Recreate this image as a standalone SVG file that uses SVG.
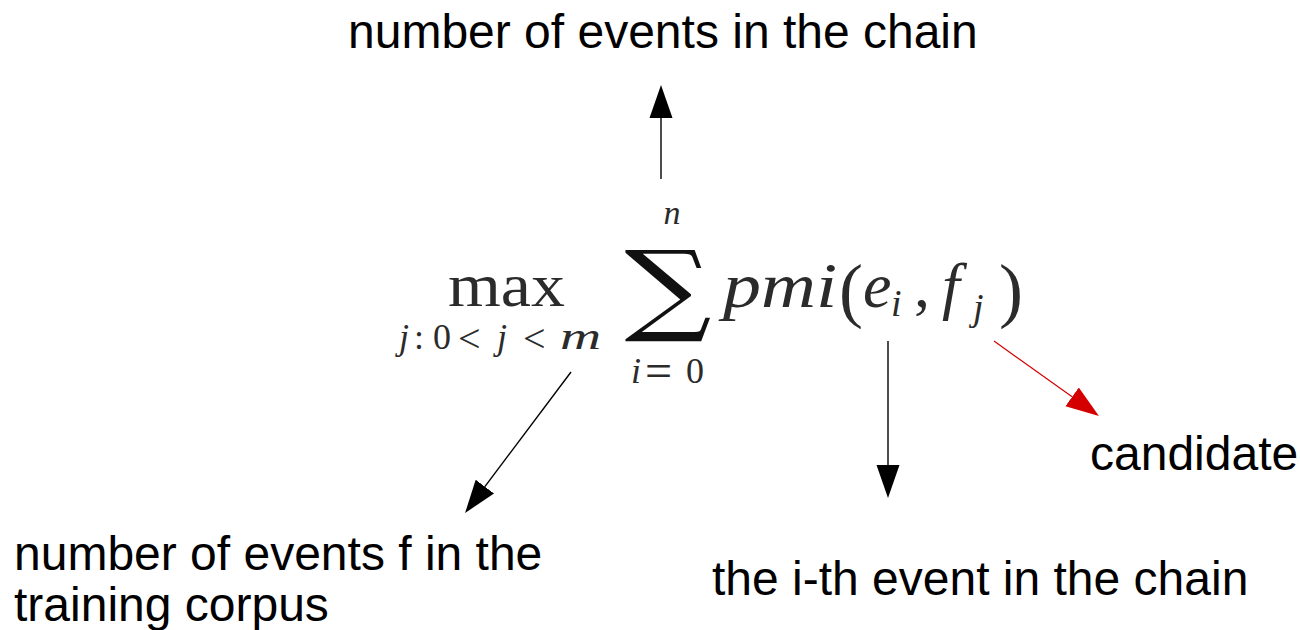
<svg xmlns="http://www.w3.org/2000/svg" width="1300" height="630" viewBox="0 0 1300 630">
<style>
.lbl{font-family:"Liberation Sans",Arial,sans-serif;font-size:48px;fill:#000}
.fm{font-family:"Liberation Serif","Times New Roman",serif;fill:#2b2b2b}
.it{font-style:italic}
.ln{stroke:#000;stroke-width:1.4;fill:none}
.lnr{stroke:#d40000;stroke-width:1.2;fill:none}
</style>
<defs>
<marker id="ah" markerUnits="userSpaceOnUse" markerWidth="34" markerHeight="24" refX="0" refY="11.5" orient="auto" viewBox="0 0 34 23">
<path d="M0,0 L33,11.5 L0,23 z" fill="#000"/>
</marker>
<marker id="ahr" markerUnits="userSpaceOnUse" markerWidth="34" markerHeight="24" refX="0" refY="11.5" orient="auto" viewBox="0 0 34 23">
<path d="M0,0 L33,11.5 L0,23 z" fill="#d40000"/>
</marker>
</defs>
<rect width="1300" height="630" fill="#fff"/>

<g id="formula">
<text class="fm" x="448" y="306" font-size="62" textLength="117" lengthAdjust="spacingAndGlyphs">max</text>
<text class="fm" y="349" font-size="36"><tspan class="it" x="399">j</tspan><tspan x="414">:</tspan><tspan x="433">0</tspan><tspan class="it" x="497">j</tspan></text>
<text class="fm" font-size="40" transform="translate(0,352)"><tspan x="458" y="0">&lt;</tspan><tspan x="523" y="0">&lt;</tspan></text>
<text class="fm it" font-size="38" transform="translate(560,349) scale(1.5,1)">m</text>
<text class="fm it" x="672" y="224" font-size="34" text-anchor="middle">n</text>
<text font-family="'DejaVu Serif',serif" font-size="100" fill="#111" text-anchor="middle" transform="translate(668,322) scale(1.22,1)">∑</text>
<text class="fm" y="383" font-size="36"><tspan class="it" x="631">i</tspan><tspan x="686">0</tspan></text>
<text class="fm" x="645" y="387" font-size="48">=</text>
<text class="fm it" x="723" y="307" font-size="64" textLength="114" lengthAdjust="spacingAndGlyphs">pmi</text>
<text class="fm" x="839" y="314" font-size="72">(</text>
<text class="fm it" x="863" y="307" font-size="64">e</text>
<text class="fm it" x="891" y="316" font-size="38">i</text>
<text class="fm" x="914" y="307" font-size="64">,</text>
<text class="fm it" x="942" y="307" font-size="64">f</text>
<text class="fm it" x="973" y="320" font-size="38">j</text>
<text class="fm" x="999" y="314" font-size="72">)</text>
</g>

<g id="label-top"><text class="lbl" x="348" y="48">number of events in the chain</text></g>
<g id="label-left"><text class="lbl" x="14" y="570">number of events f in the</text><text class="lbl" x="14" y="621">training corpus</text></g>
<g id="label-ith"><text class="lbl" x="712" y="595">the i-th event in the chain</text></g>
<g id="label-candidate"><text class="lbl" x="1090" y="470">candidate</text></g>

<g id="connectors">
<line class="ln" x1="661" y1="179" x2="661" y2="118" marker-end="url(#ah)"/>
<line class="ln" x1="571" y1="372" x2="484.9" y2="486.6" marker-end="url(#ah)"/>
<line class="ln" x1="888" y1="341" x2="888" y2="465" marker-end="url(#ah)"/>
<line class="lnr" x1="994" y1="341" x2="1072.1" y2="396.8" marker-end="url(#ahr)"/>
</g>
</svg>
